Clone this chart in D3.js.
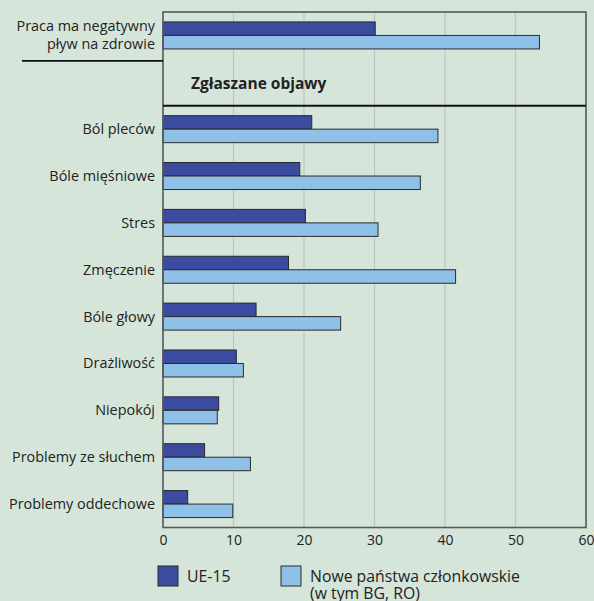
<!DOCTYPE html>
<html><head><meta charset="utf-8">
<script src="https://cdn.jsdelivr.net/npm/d3@7"></script>
<style>
html,body{margin:0;padding:0;background:#d6e5d9;}
svg{display:block;font-family:"Open Sans",sans-serif;}
</style></head>
<body>
<svg id="chart" width="594" height="601"></svg>
<script>
const categories = ["Praca ma negatywny|pływ na zdrowie", "__header__", "Ból pleców", "Bóle mięśniowe", "Stres", "Zmęczenie", "Bóle głowy", "Drażliwość", "Niepokój", "Problemy ze słuchem", "Problemy oddechowe"];
const ue15 = [30.1, null, 21.1, 19.4, 20.2, 17.8, 13.2, 10.4, 7.9, 5.9, 3.5];
const nowe = [53.4, null, 39.0, 36.5, 30.5, 41.5, 25.2, 11.4, 7.7, 12.4, 9.9];
const xTicks = [0, 10, 20, 30, 40, 50, 60];
const headerLabel = "Zgłaszane objawy";
const seriesNames = ["UE-15", "Nowe państwa członkowskie|(w tym BG, RO)"];
const colors = ["#3a4ba0", "#8fc1e8"];

(function () {
const svg = d3.select("#chart");
const mL = 163, mR = 586, mT = 12, mB = 527.5;
const x = d3.scaleLinear().domain([0, 60]).range([mL, mR]);
const y = d3.scaleBand().domain(categories).range([mT, mB]).paddingInner(0).paddingOuter(0);
const barH = 13.5;

// gridlines
svg.append("g").selectAll("line").data(xTicks.slice(1, -1)).join("line")
  .attr("x1", d => x(d)).attr("x2", d => x(d))
  .attr("y1", mT).attr("y2", mB)
  .attr("stroke", "#bcc4bf").attr("stroke-width", 1.2);

// bars
const data = categories.map((c, i) => ({c, a: ue15[i], b: nowe[i]})).filter(d => d.a != null);
const g = svg.append("g");
data.forEach(d => {
  const cy = y(d.c) + y.bandwidth() / 2;
  g.append("rect").attr("x", x(0)).attr("y", cy - barH).attr("width", x(d.a) - x(0)).attr("height", barH)
    .attr("fill", colors[0]).attr("stroke", "#2a2a2a").attr("stroke-width", 1);
  g.append("rect").attr("x", x(0)).attr("y", cy).attr("width", x(d.b) - x(0)).attr("height", barH)
    .attr("fill", colors[1]).attr("stroke", "#2a2a2a").attr("stroke-width", 1);
});

// frame
svg.append("rect").attr("x", mL).attr("y", mT).attr("width", mR - mL).attr("height", mB - mT)
  .attr("fill", "none").attr("stroke", "#555a56").attr("stroke-width", 1.6);

// header separator
const hdrBottom = y("__header__") + y.bandwidth();
svg.append("line").attr("x1", mL).attr("x2", mR).attr("y1", hdrBottom).attr("y2", hdrBottom)
  .attr("stroke", "#111").attr("stroke-width", 1.8);
svg.append("line").attr("x1", 22).attr("x2", mL).attr("y1", y("__header__") + 2).attr("y2", y("__header__") + 2)
  .attr("stroke", "#111").attr("stroke-width", 1.8);
svg.append("text").attr("x", 191).attr("y", y("__header__") + y.bandwidth() / 2 + 7)
  .attr("font-size", 15.5).attr("font-weight", "bold").attr("fill", "#222").text(headerLabel);

// category labels
const labs = svg.append("g").attr("font-size", 14.4).attr("fill", "#222").attr("text-anchor", "end");
data.forEach(d => {
  const lines = d.c.split("|");
  const cy = y(d.c) + y.bandwidth() / 2;
  const t = labs.append("text").attr("x", 155);
  lines.forEach((ln, k) => {
    t.append("tspan").attr("x", 155)
      .attr("y", cy + 5 + (k - (lines.length - 1) / 2) * 18).text(ln);
  });
});

// x axis
const ax = svg.append("g").attr("transform", `translate(0,${mB})`)
  .call(d3.axisBottom(x).tickValues(xTicks).tickSize(0).tickPadding(8).tickFormat(d3.format("d")));
ax.select(".domain").remove();
ax.selectAll("text").attr("font-size", 14).attr("fill", "#222").attr("font-family", "Open Sans, sans-serif");

// legend
const leg = svg.append("g");
const legX = [158, 281];
seriesNames.forEach((s, i) => {
  leg.append("rect").attr("x", legX[i]).attr("y", 566).attr("width", 20).attr("height", 20)
    .attr("fill", colors[i]).attr("stroke", "#2a2a2a").attr("stroke-width", 1);
  const t = leg.append("text").attr("font-size", 15.8).attr("fill", "#222");
  s.split("|").forEach((ln, k) => {
    t.append("tspan").attr("x", legX[i] + 29).attr("y", 582 + k * 16.5).text(ln);
  });
});
})();
</script>
</body></html>
